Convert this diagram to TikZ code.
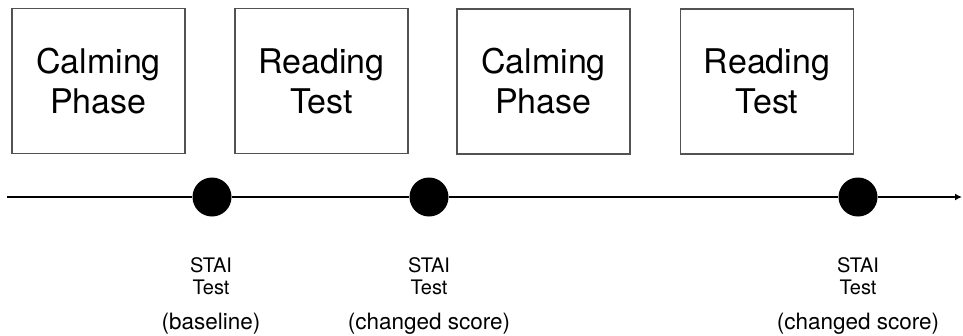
\documentclass[tikz,border=0pt]{standalone}
\usepackage{fontspec}
\setmainfont{TeX Gyre Heros}
\usetikzlibrary{arrows.meta}
\definecolor{boxline}{gray}{0.32}
\tikzset{
  phasebox/.style={draw=boxline, line width=1.4pt, minimum width=173pt, minimum height=145pt,
    inner sep=0pt, align=center, font=\fontsize{34}{40}\selectfont},
  marker/.style={circle, fill=black, minimum size=39pt, inner sep=0pt},
  timeline/.style={line width=1.8pt, black},
  stailabel/.style={anchor=base, inner sep=0pt, font=\fontsize{20}{24}\selectfont},
  stainote/.style={anchor=base, inner sep=0pt, font=\fontsize{22.5}{27}\selectfont}
}
\begin{document}
\begin{tikzpicture}[x=1pt, y=-1pt]
  \useasboundingbox (0,0) rectangle (963,335);
  % phases
  \node[phasebox] (calm1) at (98.5,81) {Calming\\Phase};
  \node[phasebox] (read1) at (321.5,81) {Reading\\Test};
  \node[phasebox] (calm2) at (543.5,81.5) {Calming\\Phase};
  \node[phasebox] (read2) at (767,81.5) {Reading\\Test};
  % time axis
  \coordinate (tstart) at (7,197);
  \coordinate (tend) at (962,197);
  \node[marker] (m1) at (212,197) {};
  \node[marker] (m2) at (429,197) {};
  \node[marker] (m3) at (858,197) {};
  \draw[timeline] (tstart) -- (m1);
  \draw[timeline] (m1) -- (m2);
  \draw[timeline] (m2) -- (m3);
  \draw[timeline, -{Latex[length=7pt,width=7pt]}] (m3) -- (tend);
  % STAI measurement labels
  \node[stailabel] (s1) at (211,272) {STAI};
  \node[stailabel] (t1) at (211,294.5) {Test};
  \node[stainote]  (n1) at (211,329) {(baseline)};
  \node[stailabel] (s2) at (429,272) {STAI};
  \node[stailabel] (t2) at (429,294.5) {Test};
  \node[stainote]  (n2) at (429,329) {(changed score)};
  \node[stailabel] (s3) at (858,272) {STAI};
  \node[stailabel] (t3) at (858,294.5) {Test};
  \node[stainote]  (n3) at (858,329) {(changed score)};
\end{tikzpicture}
\end{document}
